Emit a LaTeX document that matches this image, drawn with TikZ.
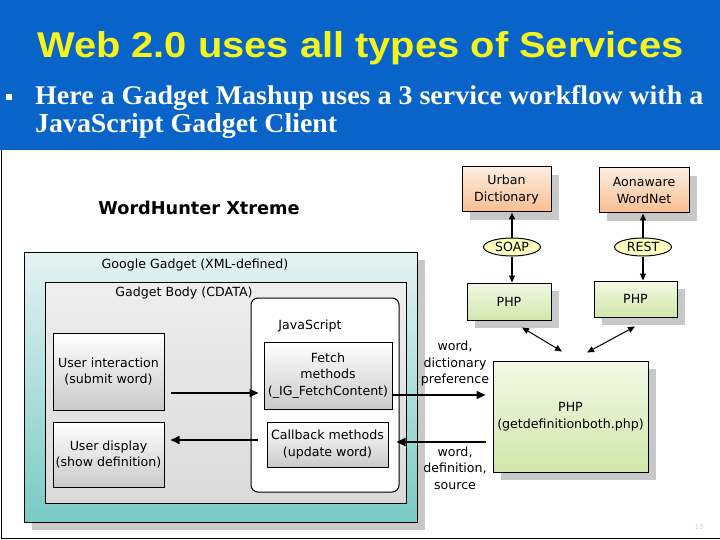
\documentclass[tikz,border=0pt]{standalone}
\usepackage{fontspec}
\setmainfont{Liberation Serif}
\newfontfamily\titlefont{Liberation Sans}
\newfontfamily\dfont{DejaVu Sans}
\usetikzlibrary{arrows.meta,shapes.geometric,shadows}
\definecolor{hdrblue}{RGB}{8,100,200}
\definecolor{titleyellow}{RGB}{245,245,30}
\definecolor{tealtop}{RGB}{228,243,242}
\definecolor{tealbot}{RGB}{122,202,197}
\definecolor{graytop}{RGB}{238,238,238}
\definecolor{graybot}{RGB}{218,218,218}
\definecolor{inboxbot}{RGB}{202,202,202}
\definecolor{orangetop}{RGB}{253,238,225}
\definecolor{orangebot}{RGB}{248,190,145}
\definecolor{greentop}{RGB}{243,248,230}
\definecolor{greenbot}{RGB}{210,231,170}
\definecolor{soapyellow}{RGB}{255,255,190}
\definecolor{shadowgray}{RGB}{200,200,200}
\begin{document}
\begin{tikzpicture}[x=1pt,y=-1pt,
  dtext/.style={inner sep=0pt, align=center, font=\dfont\fontsize{12.6}{16.5}\selectfont},
  box/.style={draw=black, line width=1pt, rectangle, inner sep=0pt, align=center, font=\dfont\fontsize{12.6}{16.5}\selectfont},
  shad/.style={drop shadow={shadow xshift=8pt, shadow yshift=-8pt, fill=shadowgray, opacity=1}},
  inbox/.style={top color=white, bottom color=inboxbot},
  bigarrow/.style={line width=1.6pt, -{Triangle[length=9pt,width=8pt]}},
  smallarrow/.style={line width=1.2pt, -{Triangle[length=7pt,width=6pt]}},
  dblarrow/.style={line width=1pt, {Triangle[length=7pt,width=6pt]}-{Triangle[length=7pt,width=6pt]}}
]
\useasboundingbox (0,0) rectangle (720,540);
\fill[white] (0,0) rectangle (720,540);
\fill[hdrblue] (0,0) rectangle (720,150);
\draw[line width=1pt] (1,150) -- (1,538) -- (720,538);

% header
\node[anchor=base west, inner sep=0pt, text=titleyellow] (title) at (37,58)
  {\resizebox{646pt}{26pt}{\titlefont\bfseries Web 2.0 uses all types of Services}};
\node[fill=white!92!yellow, minimum size=6pt, inner sep=0pt] (bullet) at (9,97) {};
\node[anchor=base west, inner sep=0pt, text=white] (l1) at (35,105)
  {\resizebox{668pt}{19pt}{\bfseries Here a Gadget Mashup uses a 3 service workflow with a}};
\node[anchor=base west, inner sep=0pt, text=white] (l2) at (35,133)
  {\resizebox{302pt}{19pt}{\bfseries JavaScript Gadget Client}};

% left part
\node[font=\dfont\bfseries\fontsize{17.7}{17.7}\selectfont, inner sep=0pt] (wh) at (199,208) {WordHunter Xtreme};
\node[box, shad, top color=tealtop, bottom color=tealbot, minimum width=393pt, minimum height=270pt] (gg) at (220.5,387) {};
\node[dtext] (gglabel) at (195,265) {Google Gadget (XML-defined)};
\node[box, top color=graytop, bottom color=graybot, minimum width=361pt, minimum height=221pt] (body) at (225.5,392.5) {};
\node[dtext] (bodylabel) at (184,293) {Gadget Body (CDATA)};
\node[box, fill=white, rounded corners=7pt, minimum width=148pt, minimum height=194pt] (js) at (325,395) {};
\node[dtext] (jslabel) at (310,326) {JavaScript};
\node[box, inbox, minimum width=128pt, minimum height=67pt] (fetch) at (328,375.5) {Fetch\\methods\\(\_IG\_FetchContent)};
\node[box, inbox, minimum width=121pt, minimum height=45pt] (cb) at (327.5,444.5) {Callback methods\\(update word)};
\node[box, inbox, minimum width=111pt, minimum height=77pt] (ui) at (108.5,371.5) {User interaction\\(submit word)};
\node[box, inbox, minimum width=111pt, minimum height=65pt] (ud) at (108.5,454.5) {User display\\(show definition)};

% right part
\node[box, shad, top color=orangetop, bottom color=orangebot, minimum width=89pt, minimum height=45pt] (urban) at (506.5,189.5) {Urban\\Dictionary};
\node[box, shad, top color=orangetop, bottom color=orangebot, minimum width=90pt, minimum height=45pt] (aon) at (644,190.5) {Aonaware\\WordNet};
\node[ellipse, draw=black, line width=1pt, fill=soapyellow, minimum width=57pt, minimum height=18pt, inner sep=0pt, font=\dfont\fontsize{12.6}{14}\selectfont] (soap) at (512,247) {SOAP};
\node[ellipse, draw=black, line width=1pt, fill=soapyellow, minimum width=57pt, minimum height=18pt, inner sep=0pt, font=\dfont\fontsize{12.6}{14}\selectfont] (rest) at (643,247) {REST};
\node[box, shad, top color=greentop, bottom color=greenbot, minimum width=84pt, minimum height=37pt] (phpl) at (509,301.5) {PHP};
\node[box, shad, top color=greentop, bottom color=greenbot, minimum width=83pt, minimum height=36pt] (phpr) at (635.5,299) {PHP};
\node[box, shad, top color=greentop, bottom color=greenbot, minimum width=155pt, minimum height=111pt] (phpm) at (570.5,416.5) {PHP\\(getdefinitionboth.php)};

\node[dtext] (lab1) at (455,364) {word,\\dictionary\\preference};
\node[dtext] (lab2) at (455,468) {word,\\definition,\\source};
\node[text=gray!35, font=\dfont\fontsize{7}{7}\selectfont, inner sep=0pt] (pg) at (699,527) {13};

% connectors
\draw[bigarrow] ([shift={(6,21.5)}]ui.east) -- ([shift={(-5,17.5)}]fetch.west);
\draw[bigarrow] ([shift={(-9,-4.5)}]cb.west) -- ([shift={(6,-14.5)}]ud.east);
\draw[bigarrow] ([shift={(0,19.5)}]fetch.east) -- ([shift={(-7,-21.5)}]phpm.west);
\draw[bigarrow] ([shift={(-7,25.5)}]phpm.west) -- ([shift={(8,-2.5)}]cb.east);
\draw[smallarrow] (soap.north) -- (soap.north |- urban.south);
\draw[smallarrow] (soap.south) -- (soap.south |- phpl.north);
\draw[smallarrow] (rest.north) -- (rest.north |- aon.south);
\draw[smallarrow] (rest.south) -- (rest.south |- phpr.north);
\draw[dblarrow] ([shift={(13,7)}]phpl.south) -- ([shift={(-8.5,-9)}]phpm.north);
\draw[dblarrow] ([shift={(-0.5,9)}]phpr.south) -- ([shift={(16.5,-8)}]phpm.north);
\end{tikzpicture}
\end{document}
